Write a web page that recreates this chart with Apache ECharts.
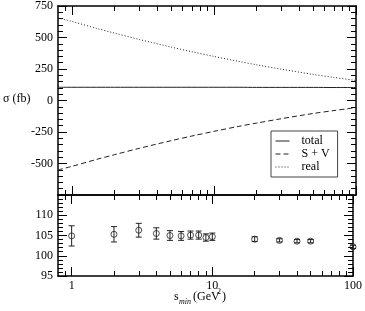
<!DOCTYPE html>
<html>
<head>
<meta charset="utf-8">
<script src="https://cdn.jsdelivr.net/npm/echarts@6/dist/echarts.min.js"></script>
<style>html,body{margin:0;padding:0;background:#fff;}#c{width:365px;height:311px;}</style>
</head>
<body>
<div id="c"></div>
<script>
// ---- data ----
var curveS = [0.8, 1, 1.5, 2, 3, 5, 7, 10, 15, 20, 30, 50, 70, 100];
var totalVals = [105, 105, 105, 105, 105, 105, 105, 105, 105, 104, 104, 104, 103, 103];
var svVals = [-551, -523, -467, -430, -379, -319, -282, -245, -205, -179, -144, -103, -80, -56];
var realVals = [656, 628, 572, 535, 484, 424, 387, 350, 310, 283, 248, 207, 183, 159];

var pointS = [1, 2, 3, 4, 5, 6, 7, 8, 9, 10, 20, 30, 40, 50, 100];
var pointVals = [104.9, 105.3, 106.3, 105.5, 105.0, 104.9, 105.1, 105.1, 104.5, 104.7, 104.1, 103.8, 103.6, 103.6, 102.2];
var pointErr = [2.5, 1.9, 1.7, 1.4, 1.2, 1.1, 1.0, 1.0, 0.9, 0.9, 0.6, 0.4, 0.4, 0.4, 0.4];

var xMajorTicks = [1, 10, 100];
var xMinorTicks = [0.9, 2, 3, 4, 5, 6, 7, 8, 9, 20, 30, 40, 50, 60, 70, 80, 90];
var xRange = [0.8, 100];
var topYRange = [-750, 750], topYStep = 250;
var botYRange = [95, 115], botYStep = 5;

var legendNames = ['total', 'S + V', 'real'];
var yTitle = 'σ (fb)';

// ---- chart ----
var FONT = '"Liberation Serif", "Times New Roman", serif';
var L = Math.log10;
var AX = '#000';

function xAxis(grid, pos, major, showLabel, withLine) {
  return {
    type: 'value', gridIndex: grid, position: pos,
    min: L(xRange[0]), max: L(xRange[1]),
    axisLine: {show: withLine, onZero: false, lineStyle: {color: AX, width: 1.5}},
    axisTick: {show: true, inside: true, length: major ? 9 : 5,
      customValues: (major ? xMajorTicks : xMinorTicks).map(L),
      lineStyle: {color: AX, width: 1}},
    axisLabel: {show: showLabel, customValues: xMajorTicks.map(L), margin: 4,
      formatter: function (v) { return String(Math.round(Math.pow(10, v))); },
      fontFamily: FONT, fontSize: 12, color: '#000'},
    splitLine: {show: false}
  };
}
function yAxis(grid, pos, range, step, showLabel, hideMin, hideMax, fs) {
  return {
    type: 'value', gridIndex: grid, position: pos,
    min: range[0], max: range[1], interval: step,
    axisLine: {show: true, onZero: false, lineStyle: {color: AX, width: 1.5}},
    axisTick: {show: true, inside: true, length: 9, lineStyle: {color: AX, width: 1}},
    minorTick: {show: true, splitNumber: 5, length: 5, lineStyle: {color: AX, width: 1}},
    axisLabel: {show: showLabel, margin: 5, fontFamily: FONT, fontSize: fs, color: '#000',
      showMinLabel: !hideMin, showMaxLabel: !hideMax},
    splitLine: {show: false}
  };
}

function pairs(xs, ys) { return xs.map(function (s, i) { return [L(s), ys[i]]; }); }

var TF = '12px "Liberation Serif", "Times New Roman", serif';
var TS = '8px "Liberation Serif", "Times New Roman", serif';
var TSI = 'italic 8px "Liberation Serif", "Times New Roman", serif';

var option = {
  animation: false,
  backgroundColor: '#fff',
  textStyle: {fontFamily: FONT},
  grid: [
    {left: 58, right: 9, top: 5, height: 190},
    {left: 58, right: 9, top: 195, height: 81}
  ],
  xAxis: [
    xAxis(0, 'bottom', true, false, true),
    xAxis(0, 'bottom', false, false, false),
    xAxis(0, 'top', true, false, true),
    xAxis(0, 'top', false, false, false),
    xAxis(1, 'bottom', true, true, true),
    xAxis(1, 'bottom', false, false, false),
    xAxis(1, 'top', true, false, true),
    xAxis(1, 'top', false, false, false)
  ],
  yAxis: [
    yAxis(0, 'left', topYRange, topYStep, true, true, false, 12),
    yAxis(0, 'right', topYRange, topYStep, false, true, false, 12),
    yAxis(1, 'left', botYRange, botYStep, true, false, true, 12),
    yAxis(1, 'right', botYRange, botYStep, false, false, true, 12)
  ],
  legend: {
    data: legendNames, orient: 'vertical', left: 271, top: 131,
    padding: [4, 8, 4, 4], itemGap: 1, itemWidth: 14, itemHeight: 10,
    borderColor: '#444', borderWidth: 1, backgroundColor: '#fff', borderRadius: 0,
    itemStyle: {opacity: 0},
    lineStyle: {width: 1},
    textStyle: {fontFamily: FONT, fontSize: 12, color: '#000', padding: [0, 0, 0, 7]}
  },
  graphic: [
    {type: 'text', left: 3, top: 93, style: {text: yTitle, font: TF, fill: '#000'}},
    {type: 'text', left: 174, top: 291, style: {text: 's', font: TF, fill: '#000'}},
    {type: 'text', left: 179, top: 298, style: {text: 'min', font: TSI, fill: '#000'}},
    {type: 'text', left: 193, top: 291, style: {text: '(GeV', font: TF, fill: '#000'}},
    {type: 'text', left: 217, top: 288, style: {text: '2', font: TS, fill: '#000'}},
    {type: 'text', left: 222, top: 291, style: {text: ')', font: TF, fill: '#000'}}
  ],
  series: [
    {name: 'total', type: 'line', xAxisIndex: 0, yAxisIndex: 0, symbol: 'none', data: pairs(curveS, totalVals),
      smooth: 0.3, lineStyle: {color: '#222', width: 1, type: 'solid'}, itemStyle: {color: '#222'}},
    {name: 'S + V', type: 'line', xAxisIndex: 0, yAxisIndex: 0, symbol: 'none', data: pairs(curveS, svVals),
      smooth: 0.3, lineStyle: {color: '#222', width: 1, type: [5, 3]}, itemStyle: {color: '#222'}},
    {name: 'real', type: 'line', xAxisIndex: 0, yAxisIndex: 0, symbol: 'none', data: pairs(curveS, realVals),
      smooth: 0.3, lineStyle: {color: '#222', width: 1, type: [1, 2]}, itemStyle: {color: '#222'}},
    {type: 'custom', xAxisIndex: 4, yAxisIndex: 2,
      data: pointS.map(function (s, i) { return [L(s), pointVals[i] - pointErr[i], pointVals[i] + pointErr[i]]; }),
      renderItem: function (params, api) {
        var lo = api.coord([api.value(0), api.value(1)]);
        var hi = api.coord([api.value(0), api.value(2)]);
        var w = 3;
        var st = {stroke: '#222', lineWidth: 1};
        return {type: 'group', children: [
          {type: 'line', shape: {x1: lo[0], y1: lo[1], x2: hi[0], y2: hi[1]}, style: st},
          {type: 'line', shape: {x1: lo[0] - w, y1: lo[1], x2: lo[0] + w, y2: lo[1]}, style: st},
          {type: 'line', shape: {x1: hi[0] - w, y1: hi[1], x2: hi[0] + w, y2: hi[1]}, style: st}
        ]};
      }, z: 2},
    {type: 'scatter', xAxisIndex: 4, yAxisIndex: 2, data: pairs(pointS, pointVals),
      symbol: 'circle', symbolSize: 6,
      itemStyle: {color: 'rgba(0,0,0,0)', borderColor: '#222', borderWidth: 1}, z: 3}
  ]
};
var chart = echarts.init(document.getElementById('c'), null, {renderer: 'canvas'});
chart.setOption(option);
</script>
</body>
</html>
